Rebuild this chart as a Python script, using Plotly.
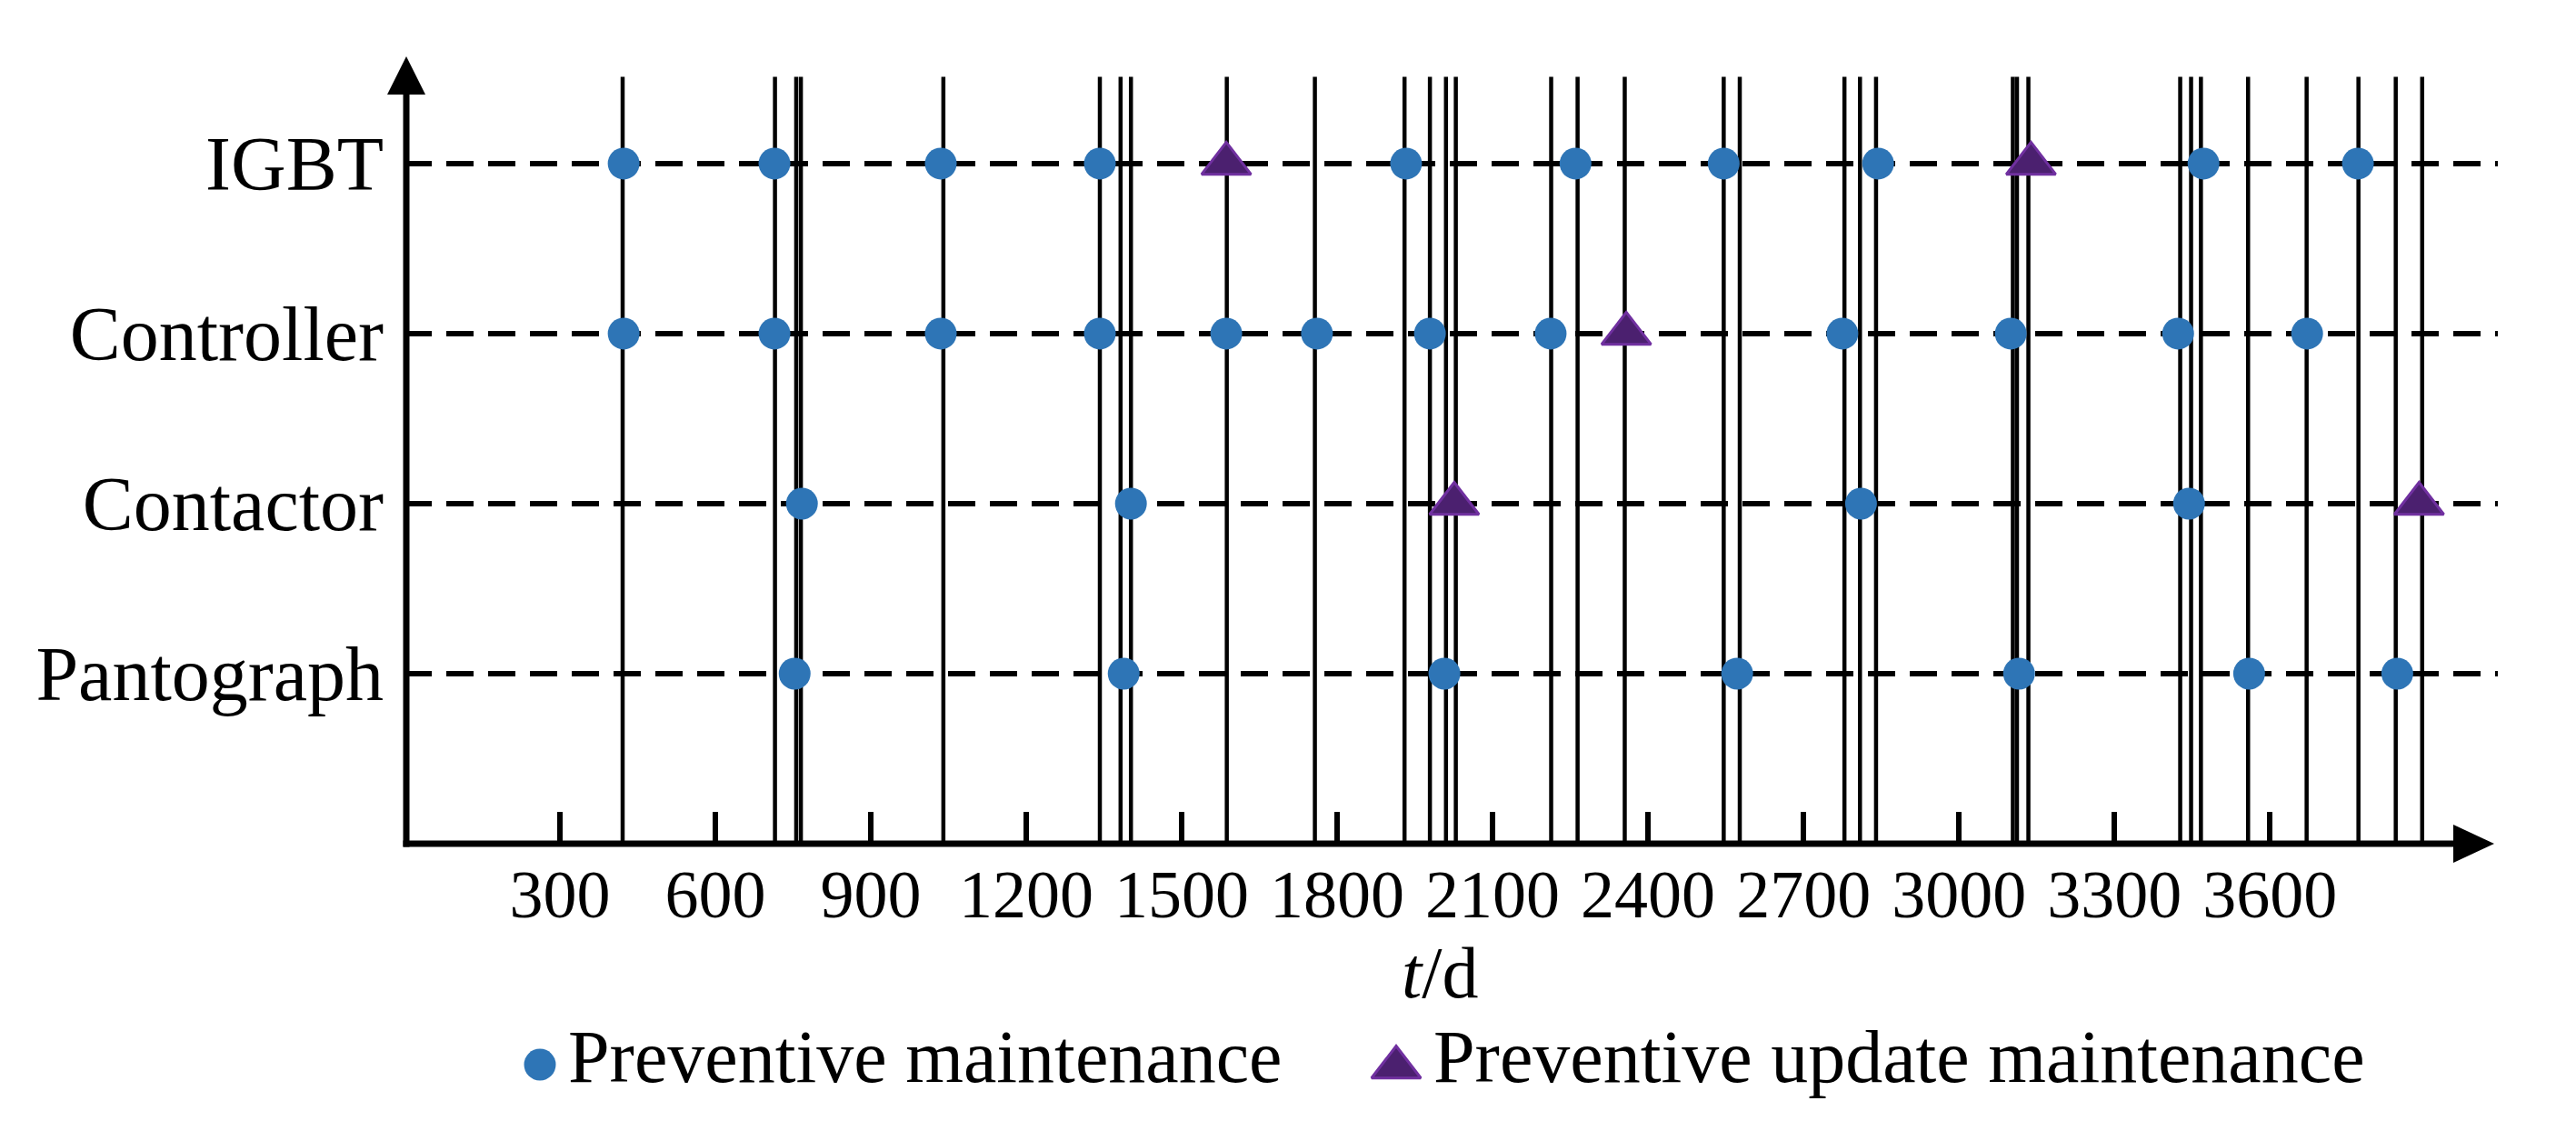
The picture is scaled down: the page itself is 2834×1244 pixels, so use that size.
import plotly.graph_objects as go

W, H = 2834, 1244

# ---------------- data ----------------
components = ["Pantograph", "Contactor", "Controller", "IGBT"]
component_levels = [1, 2, 3, 4]

# maintenance times (days)
igbt_pm = [423, 714, 1035, 1342, 1933, 2260, 2546, 2844, 3472, 3770]
igbt_pum = [1586, 3139]
controller_pm = [423, 714, 1035, 1342, 1586, 1761, 1979, 2212, 2775, 3100, 3423, 3672]
controller_pum = [2358]
contactor_pm = [767, 1402, 2811, 3444]
contactor_pum = [2026, 3888]
pantograph_pm = [753, 1388, 2007, 2572, 3116, 3560, 3846]
pantograph_pum = []

# system-level maintenance instants (vertical lines)
event_lines = [421, 715, 756, 765, 1040, 1342, 1382, 1402, 1587, 1757, 1930, 1979,
               2010, 2029, 2213, 2264, 2355, 2546, 2577, 2779, 2809, 2840, 3104,
               3112, 3134, 3427, 3448, 3467, 3558, 3671, 3771, 3843, 3894]

x_tick_vals = [300, 600, 900, 1200, 1500, 1800, 2100, 2400, 2700, 3000, 3300, 3600]
x_tick_text = [str(v) for v in x_tick_vals]

legend_labels = ["Preventive maintenance", "Preventive update maintenance"]

# ---------------- styling / layout ----------------
FONT = "Liberation Serif"
BLUE = "#2E75B6"
PURPLE_FILL = "#4B206F"
PURPLE_LINE = "#7030A0"

X_MAX = 4040
Y_MAX = 4.7
LINE_TOP = 4.51

X0_PX, X1_PX = 437, 2740      # plot area left/right in pixels
Y0_PX, Y1_PX = 920, 41        # plot area bottom/top in pixels


def fx(px):
    return px / W


def fy(py):
    return 1 - py / H


pm_by_comp = {"IGBT": igbt_pm, "Controller": controller_pm,
              "Contactor": contactor_pm, "Pantograph": pantograph_pm}
pum_by_comp = {"IGBT": igbt_pum, "Controller": controller_pum,
               "Contactor": contactor_pum, "Pantograph": pantograph_pum}

pm_x, pm_y, pum_x, pum_y = [], [], [], []
for comp, lvl in zip(components, component_levels):
    pm_x += pm_by_comp[comp]
    pm_y += [lvl] * len(pm_by_comp[comp])
    pum_x += pum_by_comp[comp]
    pum_y += [lvl] * len(pum_by_comp[comp])

circle_marker = dict(symbol="circle", size=35, color=BLUE, line=dict(width=0))
tri_marker = dict(symbol="triangle-up", size=47, color=PURPLE_FILL,
                  line=dict(width=3, color=PURPLE_LINE))

fig = go.Figure()
fig.add_trace(go.Scatter(x=pm_x, y=pm_y, mode="markers", name=legend_labels[0],
                         showlegend=False, marker=circle_marker, cliponaxis=False,
                         xaxis="x", yaxis="y"))
fig.add_trace(go.Scatter(x=pum_x, y=pum_y, mode="markers", name=legend_labels[1],
                         showlegend=False, marker=tri_marker, cliponaxis=False,
                         xaxis="x", yaxis="y"))

# legend keys on a helper pixel axis spanning the figure
fig.add_trace(go.Scatter(x=[586], y=[1163], mode="markers", showlegend=False,
                         hoverinfo="skip", marker=circle_marker, cliponaxis=False,
                         xaxis="x2", yaxis="y2"))
fig.add_trace(go.Scatter(x=[1528], y=[1166], mode="markers", showlegend=False,
                         hoverinfo="skip", marker=tri_marker, cliponaxis=False,
                         xaxis="x2", yaxis="y2"))

shapes = []
for t in event_lines:
    shapes.append(dict(type="line", xref="x", yref="y", x0=t, x1=t, y0=0, y1=LINE_TOP,
                       line=dict(color="black", width=4.5), layer="below"))

# axis lines with arrow heads (paper coordinates, not clipped)
YAX_X = 439
YAX_TOP = 96
XAX_END = 2691
shapes.append(dict(type="line", xref="paper", yref="paper",
                   x0=fx(YAX_X), x1=fx(YAX_X), y0=fy(Y0_PX + 3.5), y1=fy(YAX_TOP),
                   line=dict(color="black", width=7)))
shapes.append(dict(type="line", xref="paper", yref="paper",
                   x0=fx(YAX_X - 3.5), x1=fx(XAX_END), y0=fy(Y0_PX), y1=fy(Y0_PX),
                   line=dict(color="black", width=7)))
shapes.append(dict(type="path", xref="paper", yref="paper",
                   path=f"M {fx(YAX_X - 21)} {fy(YAX_TOP)} L {fx(YAX_X + 21)} {fy(YAX_TOP)} "
                        f"L {fx(YAX_X)} {fy(YAX_TOP - 42)} Z",
                   fillcolor="black", line=dict(width=0)))
shapes.append(dict(type="path", xref="paper", yref="paper",
                   path=f"M {fx(XAX_END)} {fy(Y0_PX - 21)} L {fx(XAX_END)} {fy(Y0_PX + 21)} "
                        f"L {fx(XAX_END + 45)} {fy(Y0_PX)} Z",
                   fillcolor="black", line=dict(width=0)))

annotations = [
    dict(text="<i>t</i>/d", xref="paper", yref="paper", x=fx(1576), y=fy(1062),
         xanchor="center", yanchor="middle", showarrow=False,
         font=dict(family=FONT, size=80, color="black")),
    dict(text=legend_labels[0], xref="paper", yref="paper", x=fx(615), y=fy(1154),
         xanchor="left", yanchor="middle", showarrow=False,
         font=dict(family=FONT, size=82, color="black")),
    dict(text=legend_labels[1], xref="paper", yref="paper", x=fx(1567), y=fy(1154),
         xanchor="left", yanchor="middle", showarrow=False,
         font=dict(family=FONT, size=82, color="black")),
]

fig.update_layout(
    width=W, height=H, autosize=False,
    margin=dict(l=0, r=0, t=0, b=0, pad=0),
    paper_bgcolor="white", plot_bgcolor="rgba(0,0,0,0)",
    showlegend=False,
    shapes=shapes, annotations=annotations,
    xaxis=dict(domain=[fx(X0_PX), fx(X1_PX)], range=[0, X_MAX],
               showgrid=False, zeroline=False, showline=False,
               tickmode="array", tickvals=x_tick_vals, ticktext=x_tick_text,
               ticks="inside", ticklen=35, tickwidth=6, tickcolor="black",
               ticklabelstandoff=6,
               tickfont=dict(family=FONT, size=74, color="black"), anchor="y"),
    yaxis=dict(domain=[fy(Y0_PX), fy(Y1_PX)], range=[0, Y_MAX],
               showgrid=True, gridcolor="black", gridwidth=6, griddash="30px,16px",
               zeroline=False, showline=False, ticks="",
               tickmode="array", tickvals=component_levels, ticktext=components,
               ticklabelstandoff=22,
               tickfont=dict(family=FONT, size=84, color="black"), anchor="x"),
    xaxis2=dict(domain=[0, 1], range=[0, W], visible=False, anchor="y2"),
    yaxis2=dict(domain=[0, 1], range=[H, 0], visible=False, anchor="x2"),
)

fig.write_html("out.html")
